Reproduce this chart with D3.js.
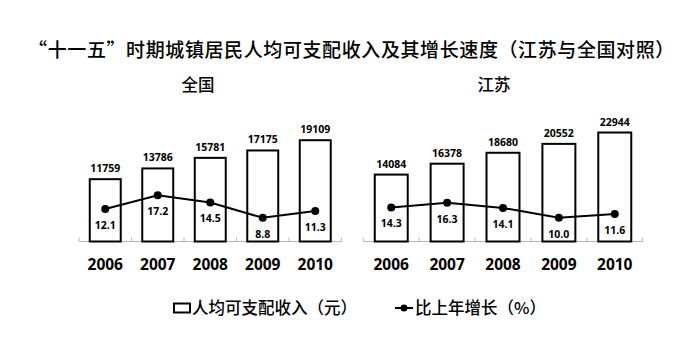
<!DOCTYPE html>
<html>
<head>
<meta charset="utf-8">
<script src="https://cdn.jsdelivr.net/npm/d3@7/dist/d3.min.js"></script>
<style>
  html, body { margin: 0; padding: 0; background: #fff; }
  svg { display: block; }
  .cjk { font-family: "Noto Sans CJK SC", sans-serif; font-weight: 500; }
  .num { font-family: "Open Sans", sans-serif; font-weight: bold; }
</style>
</head>
<body>
<svg id="chart" width="700" height="359"></svg>
<script>
const title = "“十一五”时期城镇居民人均可支配收入及其增长速度（江苏与全国对照）";
const years = ["2006", "2007", "2008", "2009", "2010"];
const nationalIncome = [11759, 13786, 15781, 17175, 19109];
const nationalGrowth = [12.1, 17.2, 14.5, 8.8, 11.3];
const jiangsuIncome = [14084, 16378, 18680, 20552, 22944];
const jiangsuGrowth = [14.3, 16.3, 14.1, 10.0, 11.6];
const panelNames = ["全国", "江苏"];
const legendLabels = ["人均可支配收入（元）", "比上年增长（%）"];

const svg = d3.select("#chart");

svg.append("text").attr("class", "cjk")
  .attr("x", 351.5).attr("y", 57)
  .attr("text-anchor", "middle")
  .attr("font-size", 19)
  .attr("letter-spacing", 0.6)
  .attr("fill", "#000")
  .text(title);

const baseY = 241.5;

function drawPanel(cfg) {
  const g = svg.append("g");
  const x = d3.scaleBand().domain(years).range([cfg.x0, cfg.x1]).padding(0);
  const yBar = d3.scaleLinear().domain([0, cfg.barMax]).range([baseY, baseY - cfg.barH]);
  const yLine = d3.scaleLinear().domain([0, cfg.lineMax]).range([baseY, baseY - cfg.lineH]);
  const bw = x.bandwidth() * 0.59;

  g.append("text").attr("class", "cjk")
    .attr("x", cfg.titleX).attr("y", 91)
    .attr("text-anchor", "middle").attr("font-size", 16.5)
    .text(cfg.name);

  g.append("line")
    .attr("x1", cfg.x0).attr("x2", cfg.x1)
    .attr("y1", baseY).attr("y2", baseY)
    .attr("stroke", "#b8b8b8").attr("stroke-width", 1);
  const ticks = years.map(d => x(d)).concat([cfg.x1]);
  g.selectAll(".tk").data(ticks).enter().append("line")
    .attr("x1", d => d).attr("x2", d => d)
    .attr("y1", baseY).attr("y2", baseY - 4)
    .attr("stroke", "#b8b8b8").attr("stroke-width", 1);

  g.selectAll(".bar").data(cfg.income).enter().append("rect")
    .attr("x", (d, i) => x(years[i]) + x.bandwidth() / 2 - bw / 2)
    .attr("y", d => yBar(d))
    .attr("width", bw)
    .attr("height", d => baseY - yBar(d))
    .attr("fill", "#fff").attr("stroke", "#000").attr("stroke-width", 2);

  g.selectAll(".blab").data(cfg.income).enter().append("text")
    .attr("class", "num")
    .attr("x", (d, i) => x(years[i]) + x.bandwidth() / 2)
    .attr("y", d => yBar(d) - 7)
    .attr("text-anchor", "middle").attr("font-size", 10.5)
    .text(d => d);

  const line = d3.line()
    .x((d, i) => x(years[i]) + x.bandwidth() / 2)
    .y(d => yLine(d));
  g.append("path").datum(cfg.growth)
    .attr("d", line).attr("fill", "none")
    .attr("stroke", "#000").attr("stroke-width", 2);
  g.selectAll(".dot").data(cfg.growth).enter().append("circle")
    .attr("cx", (d, i) => x(years[i]) + x.bandwidth() / 2)
    .attr("cy", d => yLine(d))
    .attr("r", 4).attr("fill", "#000");
  g.selectAll(".llab").data(cfg.growth).enter().append("text")
    .attr("class", "num")
    .attr("x", (d, i) => x(years[i]) + x.bandwidth() / 2)
    .attr("y", d => yLine(d) + 20)
    .attr("text-anchor", "middle").attr("font-size", 10.5)
    .text(d => d.toFixed(1));

  g.selectAll(".yl").data(years).enter().append("text")
    .attr("class", "num")
    .attr("x", d => x(d) + x.bandwidth() / 2)
    .attr("y", 270)
    .attr("text-anchor", "middle").attr("font-size", 15.5)
    .text(d => d);
}

drawPanel({ name: panelNames[0], titleX: 198, x0: 79, x1: 341.5,
  barMax: 25000, barH: 132.5, lineMax: 50, lineH: 134.5,
  income: nationalIncome, growth: nationalGrowth });
drawPanel({ name: panelNames[1], titleX: 494, x0: 363.3, x1: 642.7,
  barMax: 30000, barH: 142.5, lineMax: 60, lineH: 142.8,
  income: jiangsuIncome, growth: jiangsuGrowth });

const lg = svg.append("g");
lg.append("rect").attr("x", 174).attr("y", 303.5).attr("width", 16).attr("height", 9)
  .attr("fill", "#fff").attr("stroke", "#000").attr("stroke-width", 2);
lg.append("text").attr("class", "cjk").attr("x", 192).attr("y", 314)
  .attr("font-size", 16.5).text(legendLabels[0]);
lg.append("line").attr("x1", 395).attr("x2", 413).attr("y1", 308).attr("y2", 308)
  .attr("stroke", "#000").attr("stroke-width", 2);
lg.append("circle").attr("cx", 404).attr("cy", 308).attr("r", 3.5).attr("fill", "#000");
lg.append("text").attr("class", "cjk").attr("x", 415).attr("y", 314)
  .attr("font-size", 16.5).text(legendLabels[1]);
</script>
</body>
</html>
